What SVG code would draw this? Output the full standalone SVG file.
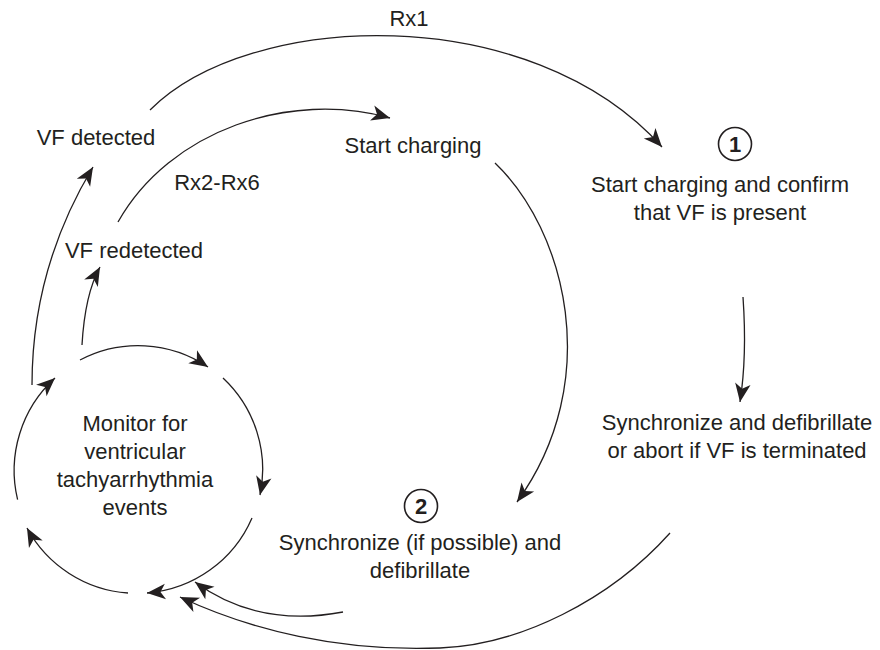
<svg xmlns="http://www.w3.org/2000/svg" width="880" height="650" viewBox="0 0 880 650">
  <style>
    text { font-family: "Liberation Sans", Arial, sans-serif; font-size: 22px; fill: #231f20; text-anchor: middle; }
    .num { font-weight: bold; }
    .edge { fill: none; stroke: #231f20; stroke-width: 1.3; marker-end: url(#head); }
    .badge { fill: none; stroke: #231f20; stroke-width: 1.6; }
  </style>
  <defs>
    <marker id="head" markerUnits="userSpaceOnUse" markerWidth="22" markerHeight="20" viewBox="-20 -10 22 20" refX="0" refY="0" orient="auto">
      <path d="M0,0 L-18.5,-7.8 L-13.5,0 L-18.5,7.8 Z" fill="#231f20"/>
    </marker>
  </defs>
  <rect width="880" height="650" fill="#ffffff"/>

  <g id="connectors">
    <!-- monitoring loop -->
    <path class="edge" d="M80,360 A125,125 0 0 1 208,367"/>
    <path class="edge" d="M223,378 A125,125 0 0 1 260,495"/>
    <path class="edge" d="M252,518 A125,125 0 0 1 147,593"/>
    <path class="edge" d="M128,593 A125,125 0 0 1 27,528"/>
    <path class="edge" d="M17.6,499.6 A125,125 0 0 1 55,378"/>
    <!-- loop to detection -->
    <path class="edge" d="M32,385 C32,300 55,230 93,167"/>
    <path class="edge" d="M82,345 C84,310 90,285 100,267"/>
    <!-- therapy paths -->
    <path class="edge" d="M150,110 C250,10 530,0 662,147"/>
    <path class="edge" d="M118,222 C170,130 290,90 390,118"/>
    <path class="edge" d="M495,163 C565,230 605,380 517,502"/>
    <path class="edge" d="M743,297 C746,340 745,370 740,402"/>
    <!-- return to monitoring -->
    <path class="edge" d="M343,612 C290,622 240,615 195,582"/>
    <path class="edge" d="M670,533 C610,600 520,645 440,648 C340,652 250,630 180,597"/>
  </g>

  <g id="label-rx1"><text x="409" y="26">Rx1</text></g>
  <g id="label-rx2-rx6"><text x="217" y="190">Rx2-Rx6</text></g>

  <g id="node-vf-detected"><text x="96" y="145">VF detected</text></g>
  <g id="node-vf-redetected"><text x="134" y="258">VF redetected</text></g>
  <g id="node-start-charging"><text x="413" y="153">Start charging</text></g>

  <g id="node-monitor">
    <text x="135" y="431">Monitor for</text>
    <text x="135" y="459">ventricular</text>
    <text x="135" y="487">tachyarrhythmia</text>
    <text x="135" y="515">events</text>
  </g>

  <g id="node-confirm">
    <circle class="badge" cx="735" cy="144" r="16.5"/>
    <text class="num" x="735" y="152">1</text>
    <text x="720" y="192">Start charging and confirm</text>
    <text x="720" y="220">that VF is present</text>
  </g>

  <g id="node-sync-abort">
    <text x="737" y="430">Synchronize and defibrillate</text>
    <text x="737" y="458">or abort if VF is terminated</text>
  </g>

  <g id="node-sync-defib">
    <circle class="badge" cx="421" cy="506" r="16.5"/>
    <text class="num" x="421" y="514">2</text>
    <text x="420" y="550">Synchronize (if possible) and</text>
    <text x="420" y="578">defibrillate</text>
  </g>
</svg>
